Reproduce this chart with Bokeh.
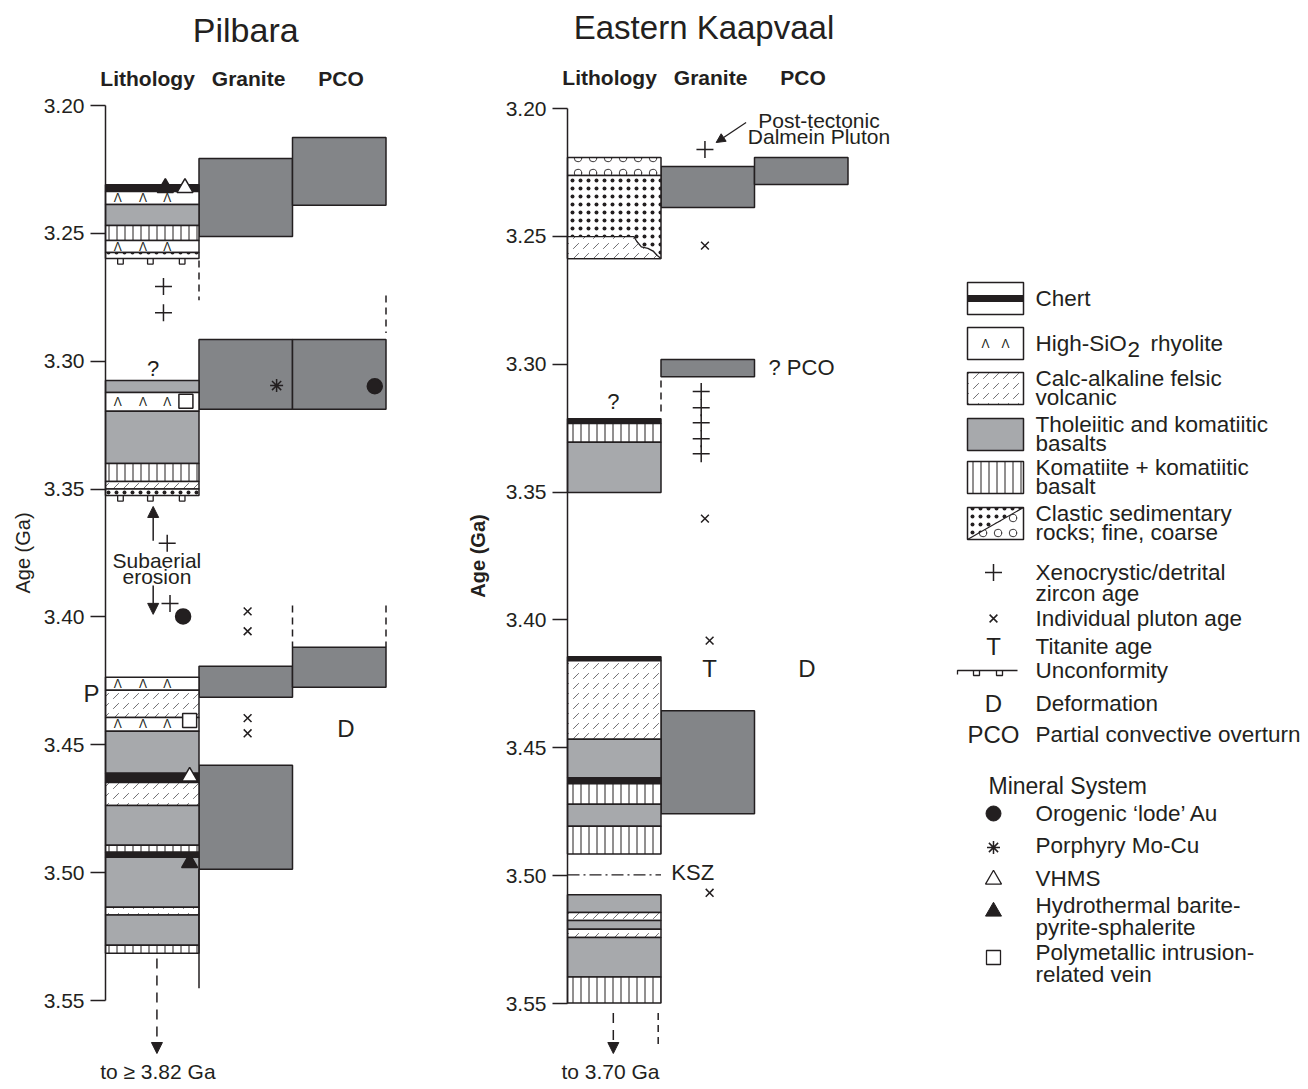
from bokeh.plotting import figure
from bokeh.models import (Range1d, FixedTicker, PrintfTickFormatter, Label, Arrow,
                          NormalHead, ColumnDataSource, LinearAxis)
from bokeh.embed import file_html
from bokeh.resources import INLINE
from bokeh.core.properties import value

FONT = "Liberation Sans"
INK = "#231f20"
HATCH_INK = "#4a4a4c"
BASALT = "#a7a9ac"
GRANITE = "#838588"

# ------------------------------------------------------------------ data
age_ticks = [3.20, 3.25, 3.30, 3.35, 3.40, 3.45, 3.50, 3.55]
headers = ["Lithology", "Granite", "PCO"]
header_cols = [0.45, 1.53, 2.52]

# Pilbara lithology (age of top, age of bottom, rock type)
pil_top = [3.2310, 3.2336, 3.2387, 3.2469, 3.2528, 3.2575,
           3.3075, 3.3122, 3.3196, 3.3400, 3.3470, 3.3500,
           3.4236, 3.4287, 3.4393, 3.4447, 3.4611, 3.4647, 3.4737,
           3.4893, 3.4920, 3.4940, 3.5135, 3.5166, 3.5284]
pil_bot = [3.2336, 3.2387, 3.2469, 3.2528, 3.2575, 3.2598,
           3.3122, 3.3196, 3.3400, 3.3470, 3.3500, 3.3525,
           3.4287, 3.4393, 3.4447, 3.4611, 3.4647, 3.4737, 3.4893,
           3.4920, 3.4940, 3.5135, 3.5166, 3.5284, 3.5315]
pil_rock = ["chert", "rhyolite", "basalt", "komatiite", "rhyolite", "fine",
            "basalt", "rhyolite", "basalt", "komatiite", "felsic", "fine",
            "rhyolite", "felsic", "rhyolite", "basalt", "chert", "felsic", "basalt",
            "komatiite", "chert", "basalt", "felsic", "basalt", "komatiite"]
pil_granite_top = [3.2207, 3.2915, 3.4193, 3.4580]
pil_granite_bot = [3.2512, 3.3188, 3.4314, 3.4987]
pil_pco_top = [3.2125, 3.2915, 3.4119]
pil_pco_bot = [3.2390, 3.3188, 3.4275]
pil_unconformity = [3.2598, 3.3525]
pil_xeno_col = [0.62, 0.62, 0.66, 0.69]
pil_xeno_age = [3.2708, 3.2810, 3.3712, 3.3947]
pil_pluton_col = [1.52, 1.52, 1.52, 1.52]
pil_pluton_age = [3.3978, 3.4056, 3.4396, 3.4455]
pil_au_col = [2.88, 0.83]
pil_au_age = [3.3098, 3.3998]
pil_porph_col = [1.83]
pil_porph_age = [3.3095]
pil_vhms_col = [0.85, 0.90]
pil_vhms_age = [3.2322, 3.4624]
pil_barite_col = [0.64, 0.90]
pil_barite_age = [3.2322, 3.4962]
pil_vein_col = [0.86, 0.90]
pil_vein_age = [3.3157, 3.4405]
pil_deform_col = [2.57]
pil_deform_age = [3.4436]

# Eastern Kaapvaal lithology
kv_top = [3.2192, 3.2262, 3.3213, 3.3232, 3.3305, 3.4144, 3.4160, 3.4467, 3.4617,
          3.4641, 3.4721, 3.4807, 3.5075, 3.5144, 3.5175, 3.5210, 3.5242, 3.5396]
kv_bot = [3.2262, 3.2587, 3.3232, 3.3305, 3.3502, 3.4160, 3.4467, 3.4617, 3.4641,
          3.4721, 3.4807, 3.4915, 3.5144, 3.5175, 3.5210, 3.5242, 3.5396, 3.5498]
kv_rock = ["coarse", "fine", "chert", "komatiite", "basalt", "chert", "felsic", "basalt", "chert",
           "komatiite", "basalt", "komatiite", "basalt", "felsic", "basalt", "felsic", "basalt", "komatiite"]
kv_lens_top, kv_lens_bot, kv_lens_edge = 3.2501, 3.2587, 0.71
kv_granite_top = [3.2227, 3.2982, 3.4355]
kv_granite_bot = [3.2387, 3.3049, 3.4758]
kv_pco_top = [3.2192]
kv_pco_bot = [3.2297]
kv_xeno_col = [1.47, 1.43, 1.43, 1.43, 1.43, 1.43]
kv_xeno_age = [3.2160, 3.3107, 3.3170, 3.3229, 3.3291, 3.3350]
kv_pluton_col = [1.47, 1.47, 1.52, 1.52]
kv_pluton_age = [3.2536, 3.3604, 3.4081, 3.5067]
kv_titanite_col, kv_titanite_age = [1.52], [3.4191]
kv_deform_col, kv_deform_age = [2.56], [3.4191]
kv_ksz_age = 3.4997

# legend
legend_rocks = ["chert", "rhyolite", "felsic", "basalt", "komatiite", "clastic"]
legend_rock_text = [["Chert"], ["High-SiO", "2", "rhyolite"], ["Calc-alkaline felsic", "volcanic"],
                    ["Tholeiitic and komatiitic", "basalts"], ["Komatiite + komatiitic", "basalt"],
                    ["Clastic sedimentary", "rocks; fine, coarse"]]
legend_sym_text = [["Xenocrystic/detrital", "zircon age"], ["Individual pluton age"], ["Titanite age"],
                   ["Unconformity"], ["Deformation"], ["Partial convective overturn"]]
legend_min_text = [["Orogenic \u2018lode\u2019 Au"], ["Porphyry Mo-Cu"], ["VHMS"],
                   ["Hydrothermal barite-", "pyrite-sphalerite"], ["Polymetallic intrusion-", "related vein"]]

# fill, hatch pattern, hatch spacing, hatch weight, hatch colour
ROCK = {
    "chert": (INK, "blank", 8, 1.0, INK),
    "rhyolite": ("white", "blank", 8, 1.0, INK),
    "basalt": (BASALT, "blank", 8, 1.0, INK),
    "komatiite": ("white", "vertical_line", 8, 1.0, INK),
    "felsic": ("white", "right_diagonal_dash", 10, 0.8, HATCH_INK),
    "fine": ("white", "dot", 8, 0.8, INK),
    "coarse": ("white", "ring", 15, 0.9, INK),
}

# ------------------------------------------------------------------ figure geometry
W, H = 1308, 1088
U = 93.5                      # pixels per column unit
PX0 = 105                     # page x of the Pilbara age axis
KX = (567 - PX0) / U          # column offset of the Kaapvaal age axis
SC = 895 / 0.35               # pixels per Ga


def age_range(top_px):
    return Range1d(3.20 + (H - top_px) / SC, 3.20 - top_px / SC)


p = figure(width=W, height=H, x_range=Range1d(-PX0 / U, (W - PX0) / U), y_range=age_range(105),
           output_backend="svg", toolbar_location=None, x_axis_location=None, y_axis_location="left",
           min_border_left=0, min_border_right=0, min_border_top=0, min_border_bottom=0)
p.extra_y_ranges = {"kv": age_range(108), "px": Range1d(H, 0)}
p.extra_x_ranges = {"px": Range1d(0, W)}
p.outline_line_color = None
p.grid.visible = False


def style_axis(ax, loc, label_style, standoff):
    ax.fixed_location = loc
    ax.ticker = FixedTicker(ticks=age_ticks)
    ax.formatter = PrintfTickFormatter(format="%.2f")
    ax.bounds = (3.20, 3.55)
    ax.minor_tick_line_color = None
    ax.major_tick_in = 0
    ax.major_tick_out = 15
    ax.major_tick_line_width = 1.5
    ax.major_tick_line_color = INK
    ax.axis_line_width = 1.5
    ax.axis_line_color = INK
    ax.major_label_text_font = FONT
    ax.major_label_text_font_size = "21px"
    ax.major_label_text_color = INK
    ax.major_label_standoff = 6
    ax.axis_label = "Age (Ga)"
    ax.axis_label_text_font = FONT
    ax.axis_label_text_font_size = "20px"
    ax.axis_label_text_font_style = label_style
    ax.axis_label_text_color = INK
    ax.axis_label_standoff = standoff


style_axis(p.yaxis[0], 0, "normal", 7)
kv_axis = LinearAxis(y_range_name="kv")
style_axis(kv_axis, KX, "bold", 14)
p.add_layout(kv_axis, "left")


def draw_litho(x0, yr, tops, bots, rocks):
    n = len(tops)
    src = ColumnDataSource(dict(
        left=[x0] * n, right=[x0 + 1] * n, top=tops, bottom=bots,
        fill=[ROCK[r][0] for r in rocks], hatch=[ROCK[r][1] for r in rocks],
        scale=[ROCK[r][2] for r in rocks], weight=[ROCK[r][3] for r in rocks],
        hcolor=[ROCK[r][4] for r in rocks]))
    p.quad(left="left", right="right", top="top", bottom="bottom", source=src, y_range_name=yr,
           fill_color="fill", hatch_pattern="hatch", hatch_scale="scale",
           hatch_color="hcolor", hatch_weight="weight", line_color=INK, line_width=1.5)
    xs, ys = [], []
    for t, b, r in zip(tops, bots, rocks):
        if r == "rhyolite":
            for c in (0.13, 0.40, 0.66):
                xs.append(x0 + c)
                ys.append((t + b) / 2)
    if xs:
        p.text(x=xs, y=ys, text=["\u039b"] * len(xs), y_range_name=yr, text_font=value(FONT),
               text_font_size="12px", text_align="center", text_baseline="middle", text_color=INK)


def draw_boxes(x0, yr, tops, bots, col):
    n = len(tops)
    p.quad(left=[x0 + col] * n, right=[x0 + col + 1] * n, top=tops, bottom=bots, y_range_name=yr,
           fill_color=GRANITE, line_color=INK, line_width=1.5)


def markers(x0, yr, cols, ages, marker, size, fill=None, lw=1.5):
    p.scatter(x=[x0 + c for c in cols], y=ages, y_range_name=yr, marker=marker, size=size,
              line_color=INK, line_width=lw, fill_color=fill if fill else INK)


def unconformity(x0, yr, ages, cols=(0.16, 0.48, 0.82)):
    xs, ys = [], []
    for a in ages:
        for c in cols:
            xs.append([x0 + c - 0.03, x0 + c - 0.03, x0 + c + 0.03, x0 + c + 0.03])
            ys.append([a, a + 0.0022, a + 0.0022, a])
    p.multi_line(xs=xs, ys=ys, y_range_name=yr, line_color=INK, line_width=1.3)


def txt(x, y, s, size, style="normal", align="center", yr="default", xr="default"):
    p.add_layout(Label(x=x, y=y, text=s, text_font=FONT, text_font_size=size, x_range_name=xr,
                       y_range_name=yr, text_font_style=style, text_align=align,
                       text_baseline="middle", text_color=INK))


def arrow(x0, y0, x1, y1, yr, size=11, dash="solid", lw=1.5):
    p.add_layout(Arrow(end=NormalHead(size=size, fill_color=INK, line_color=INK, line_width=1),
                       x_start=x0, y_start=y0, x_end=x1, y_end=y1, y_range_name=yr,
                       line_color=INK, line_width=lw, line_dash=dash))


# ------------------------------------------------------------------ Pilbara
D = "default"
draw_boxes(0, D, pil_granite_top, pil_granite_bot, 1)
draw_boxes(0, D, pil_pco_top, pil_pco_bot, 2)
draw_litho(0, D, pil_top, pil_bot, pil_rock)
unconformity(0, D, pil_unconformity)
p.segment(x0=[1.0, 3.0, 2.0, 3.0], y0=[3.2606, 3.2743, 3.3955, 3.3955],
          x1=[1.0, 3.0, 2.0, 3.0], y1=[3.2762, 3.2890, 3.4119, 3.4119],
          line_color=INK, line_width=1.5, line_dash="7 5")
p.segment(x0=[1.0], y0=[pil_granite_bot[-1]], x1=[1.0], y1=[3.5452], line_color=INK, line_width=1.5)
markers(0, D, pil_xeno_col, pil_xeno_age, "cross", 17)
markers(0, D, pil_pluton_col, pil_pluton_age, "x", 11)
markers(0, D, pil_au_col, pil_au_age, "circle", 15)
markers(0, D, pil_porph_col, pil_porph_age, "asterisk", 13)
markers(0, D, pil_vhms_col, pil_vhms_age, "triangle", 16, fill="white")
markers(0, D, pil_barite_col, pil_barite_age, "triangle", 16)
markers(0, D, pil_vein_col, pil_vein_age, "square", 14, fill="white")
for c, a in zip(pil_deform_col, pil_deform_age):
    txt(c, a, "D", "24px")
txt(1.5, 3.20 - (105 - 29) / SC, "Pilbara", "34px")
for h, c in zip(headers, header_cols):
    txt(c, 3.20 - (105 - 78) / SC, h, "21px", "bold")
txt(0.51, 3.3028, "?", "22px")
txt(-0.15, 3.4299, "P", "24px")
txt(0.55, 3.3779, "Subaerial", "21px")
txt(0.55, 3.3840, "erosion", "21px")
arrow(0.51, 3.3702, 0.51, 3.3568, D)
arrow(0.51, 3.3877, 0.51, 3.3990, D)
arrow(0.55, 3.5336, 0.55, 3.20 + (1053 - 105) / SC, D, dash="10 7")
txt(0.56, 3.20 + (1071 - 105) / SC, "to \u2265 3.82 Ga", "21px")

# ------------------------------------------------------------------ Eastern Kaapvaal
K = "kv"
draw_boxes(KX, K, kv_granite_top, kv_granite_bot, 1)
draw_boxes(KX, K, kv_pco_top, kv_pco_bot, 2)
draw_litho(KX, K, kv_top, kv_bot, kv_rock)
e = kv_lens_edge
lens_x = [KX + v for v in (0, e, e + 0.03, e + 0.08, e + 0.15, e + 0.21, e + 0.25, 1.0, 0)]
lens_y = [kv_lens_top, kv_lens_top, kv_lens_top + 0.0018, kv_lens_top + 0.0040, kv_lens_top + 0.0046,
          kv_lens_top + 0.0058, kv_lens_top + 0.0074, kv_lens_bot, kv_lens_bot]
p.patch(x=lens_x, y=lens_y, y_range_name=K, fill_color="white", hatch_pattern="right_diagonal_dash",
        hatch_scale=10, hatch_color=HATCH_INK, hatch_weight=0.8, line_color=INK, line_width=1.3)
p.segment(x0=[KX], y0=[kv_ksz_age], x1=[KX + 1.0], y1=[kv_ksz_age], y_range_name=K, line_color=INK,
          line_width=1.3, line_dash="12 4 2 4")
p.segment(x0=[KX + 1.0, KX + 0.97], y0=[3.3064, 3.5537], x1=[KX + 1.0, KX + 0.97], y1=[3.3189, 3.5674],
          y_range_name=K, line_color=INK, line_width=1.5, line_dash="7 5")
markers(KX, K, kv_xeno_col, kv_xeno_age, "cross", 17)
markers(KX, K, kv_pluton_col, kv_pluton_age, "x", 11)
for c, a in zip(kv_titanite_col, kv_titanite_age):
    txt(KX + c, a, "T", "24px", yr=K)
for c, a in zip(kv_deform_col, kv_deform_age):
    txt(KX + c, a, "D", "24px", yr=K)
txt(KX + 1.46, 3.20 - (108 - 27) / SC, "Eastern Kaapvaal", "33px", yr=K)
for h, c in zip(headers, header_cols):
    txt(KX + c, 3.20 - (108 - 77) / SC, h, "21px", "bold", yr=K)
txt(KX + 0.49, 3.3146, "?", "22px", yr=K)
txt(KX + 1.11, kv_ksz_age - 0.0008, "KSZ", "22px", align="left", yr=K)
txt(KX + 2.15, 3.3013, "? PCO", "22px", align="left", yr=K)
txt(KX + 2.69, 3.2047, "Post-tectonic", "21px", yr=K)
txt(KX + 2.69, 3.2110, "Dalmein Pluton", "21px", yr=K)
arrow(KX + 1.91, 3.2055, KX + 1.59, 3.2133, K, size=9, lw=1.3)
arrow(KX + 0.49, 3.5537, KX + 0.49, 3.20 + (1053 - 108) / SC, K, dash="10 7")
txt(KX + 0.46, 3.20 + (1071 - 108) / SC, "to 3.70 Ga", "21px", yr=K)

# ------------------------------------------------------------------ legend (page pixel coordinates)
P = "px"
xl, xr, tx, sx = 967, 1023, 1035, 993
LF = "22.5px"


def ltext(x, y, s, size=LF, align="left"):
    txt(x, y, s, size, align=align, yr=P, xr=P)


def lquad(l, r, t, b, **kw):
    p.quad(left=[l], right=[r], top=[t], bottom=[b], x_range_name=P, y_range_name=P, **kw)


rock_rows = [298, 343, 388, 434, 477, 523]
for rock, lines, yc in zip(legend_rocks, legend_rock_text, rock_rows):
    top, bot = yc - 16, yc + 16
    if rock == "clastic":
        p.patch(x=[xl, xr, xl], y=[top, top, bot], x_range_name=P, y_range_name=P, fill_color="white",
                hatch_pattern="dot", hatch_scale=8, hatch_weight=0.8, hatch_color=INK, line_color=None)
        p.patch(x=[xr, xr, xl], y=[top, bot, bot], x_range_name=P, y_range_name=P, fill_color="white",
                hatch_pattern="ring", hatch_scale=15, hatch_weight=0.9, hatch_color=INK, line_color=None)
        p.segment(x0=[xl], y0=[bot], x1=[xr], y1=[top], x_range_name=P, y_range_name=P,
                  line_color=INK, line_width=1.2)
        lquad(xl, xr, top, bot, fill_color=None, line_color=INK, line_width=1.5)
    else:
        f, h, s, w, hc = ROCK[rock]
        if rock == "chert":
            f, h = "white", "blank"
        lquad(xl, xr, top, bot, fill_color=f, hatch_pattern=h, hatch_scale=s, hatch_weight=w,
              hatch_color=hc, line_color=INK, line_width=1.5)
        if rock == "chert":
            lquad(xl, xr, yc - 3.5, yc + 3.5, fill_color=INK, line_color=None)
        if rock == "rhyolite":
            p.text(x=[985, 1005], y=[yc, yc], text=["\u039b", "\u039b"], x_range_name=P, y_range_name=P,
                   text_font=value(FONT), text_font_size="12px", text_align="center",
                   text_baseline="middle", text_color=INK)
    if rock == "rhyolite":
        ltext(tx, yc, lines[0])
        ltext(tx + 92, yc + 6, lines[1])
        ltext(tx + 115, yc, lines[2])
    elif len(lines) == 1:
        ltext(tx, yc, lines[0])
    else:
        ltext(tx, yc - 10, lines[0])
        ltext(tx, yc + 9, lines[1])

sym_rows = [572, 618, 646, 670, 703, 734]
p.scatter(x=[sx], y=[572], x_range_name=P, y_range_name=P, marker="cross", size=17, line_color=INK,
          line_width=1.5)
p.scatter(x=[sx], y=[618], x_range_name=P, y_range_name=P, marker="x", size=11, line_color=INK,
          line_width=1.5)
ltext(sx, 646, "T", "24px", "center")
p.multi_line(xs=[[957, 957, 1017], [973, 973, 979, 979], [996, 996, 1002, 1002]],
             ys=[[674, 670, 670], [670, 675, 675, 670], [670, 675, 675, 670]],
             x_range_name=P, y_range_name=P, line_color=INK, line_width=1.3)
ltext(sx, 703, "D", "24px", "center")
ltext(sx, 734, "PCO", "24px", "center")
for lines, yc in zip(legend_sym_text, sym_rows):
    ltext(tx, yc, lines[0])
    if len(lines) > 1:
        ltext(tx, yc + 21, lines[1])

ltext(988, 785, "Mineral System", "23px")
min_rows = [813, 845, 878, 910, 957]
p.scatter(x=[sx], y=[813], x_range_name=P, y_range_name=P, marker="circle", size=15, line_color=INK,
          fill_color=INK)
p.scatter(x=[sx], y=[847], x_range_name=P, y_range_name=P, marker="asterisk", size=13, line_color=INK,
          line_width=1.5)
p.scatter(x=[sx], y=[879], x_range_name=P, y_range_name=P, marker="triangle", size=16, line_color=INK,
          fill_color="white", line_width=1.3)
p.scatter(x=[sx], y=[911], x_range_name=P, y_range_name=P, marker="triangle", size=16, line_color=INK,
          fill_color=INK)
p.scatter(x=[sx], y=[957], x_range_name=P, y_range_name=P, marker="square", size=14, line_color=INK,
          fill_color="white", line_width=1.3)
for lines, yc in zip(legend_min_text, min_rows):
    if len(lines) == 1:
        ltext(tx, yc, lines[0])
    else:
        ltext(tx, yc - 5, lines[0])
        ltext(tx, yc + 17, lines[1])

open("out.html", "w").write(file_html(p, INLINE))
